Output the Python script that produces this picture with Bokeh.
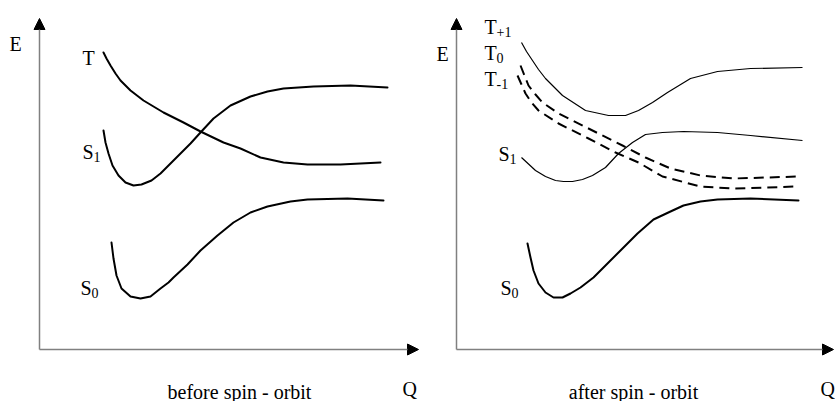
from bokeh.plotting import figure
from bokeh.models import Range1d, Arrow, NormalHead, ColumnDataSource
from bokeh.layouts import row
from bokeh.core.properties import value
from bokeh.embed import file_html
from bokeh.resources import INLINE

FONT = "Liberation Serif"

# ---------------- data (Q, E in arbitrary units; origin at the axes corner) ----------------
# before spin-orbit
left_T_q = [64, 67, 71, 76, 81, 91, 104, 124, 144, 161, 184, 201, 221, 244, 268, 301, 341]
left_T_e = [297, 291, 284, 276, 269, 259, 249, 237, 227, 218, 207, 201, 192, 187, 185, 185, 187]
left_S1_q = [64, 66, 69, 73, 79, 86, 94, 102, 112, 121, 129, 134, 151, 161, 174, 191, 211, 228, 244, 274, 311, 348]
left_S1_e = [219, 207, 196, 184, 174, 167, 164, 165, 169, 176, 184, 189, 206, 217, 231, 244, 253, 258, 261, 263, 264, 262]
left_S0_q = [72, 74, 77, 82, 91, 101, 111, 121, 129, 134, 148, 161, 178, 194, 211, 228, 251, 268, 308, 344]
left_S0_e = [107, 91, 74, 61, 53, 51, 53, 61, 67, 72, 85, 99, 114, 127, 137, 143, 148, 150, 151, 149]

# after spin-orbit
right_Tp1_q = [65, 70, 76, 82, 89, 106, 129, 152, 169, 182, 196, 211, 234, 261, 294, 346]
right_Tp1_e = [307, 298, 289, 280, 271, 254, 239, 234, 234, 239, 247, 257, 271, 278, 281, 282]
right_T0_q = [64, 68, 72, 79, 86, 102, 132, 166, 189, 214, 244, 277, 311, 341]
right_T0_e = [284, 274, 264, 255, 247, 236, 221, 204, 192, 181, 174, 171, 172, 173]
right_Tm1_q = [61, 65, 69, 75, 82, 102, 132, 159, 182, 206, 244, 277, 311, 339]
right_Tm1_e = [274, 265, 256, 247, 239, 226, 211, 197, 187, 173, 163, 161, 162, 163]
right_S1_q = [65, 79, 89, 99, 107, 116, 126, 136, 149, 162, 176, 189, 206, 227, 261, 294, 346]
right_S1_e = [192, 179, 173, 169, 168, 168, 170, 174, 182, 196, 207, 215, 217, 218, 217, 214, 209]
right_S0_q = [71, 74, 77, 82, 89, 97, 106, 114, 124, 137, 150, 164, 181, 197, 214, 227, 244, 261, 294, 342]
right_S0_e = [106, 92, 79, 66, 57, 52, 52, 56, 62, 72, 85, 99, 116, 130, 138, 144, 148, 150, 151, 149]

# axis extents
left_q_max, left_e_max = 379, 331
right_q_max, right_e_max = 377, 331

# labels: main letter, subscript, position
left_labels = ["T", "S", "S"]
left_subs = ["", "1", "0"]
left_label_q = [43, 43, 41]
left_label_e = [292, 198, 62]

right_labels = ["T", "T", "T", "S", "S"]
right_subs = ["+1", "0", "-1", "1", "0"]
right_label_q = [28, 28, 28, 42, 44]
right_label_e = [323, 297, 271, 196, 62]

left_caption = "before spin - orbit"
right_caption = "after spin - orbit"


def make_panel(width, xr, yr):
    p = figure(width=width, height=401, x_range=Range1d(*xr), y_range=Range1d(*yr),
               output_backend="svg", toolbar_location=None, min_border=0)
    p.axis.visible = False
    p.grid.visible = False
    p.outline_line_color = None
    p.background_fill_color = "white"
    p.border_fill_color = "white"
    return p


def add_axes(p, qmax, emax):
    for (xs, ys, xe, ye) in [(0, 0, qmax, 0), (0, 0, 0, emax)]:
        p.add_layout(Arrow(x_start=xs, y_start=ys, x_end=xe, y_end=ye,
                           line_color="#808080", line_width=1.5,
                           end=NormalHead(size=11, fill_color="black",
                                          line_color="black", line_width=1)))


def add_text(p, xs, ys, texts, size, align="left", x_off=0, y_off=0):
    src = ColumnDataSource(dict(x=xs, y=ys, t=texts))
    p.text(x="x", y="y", text="t", source=src, text_font=value(FONT),
           text_font_size=size, text_color="black", text_align=align,
           text_baseline="alphabetic", x_offset=x_off, y_offset=y_off)


def add_labels(p, mains, subs, qs, es):
    add_text(p, qs, es, mains, "20px")
    widths = [12 if m == "T" else 11 for m in mains]
    for m, s, q, e, w in zip(mains, subs, qs, es, widths):
        if s:
            add_text(p, [q], [e], [s], "14px", x_off=w, y_off=5)


# ---------------- left panel ----------------
left = make_panel(420, (-39, 381), (-52, 349))
add_axes(left, left_q_max, left_e_max)
for q, e in [(left_T_q, left_T_e), (left_S1_q, left_S1_e), (left_S0_q, left_S0_e)]:
    left.line(q, e, line_color="black", line_width=2, line_join="round", line_cap="round")
add_labels(left, left_labels, left_subs, left_label_q, left_label_e)
add_text(left, [-30], [306], ["E"], "20px")
add_text(left, [363], [-39], ["Q"], "20px")
add_text(left, [200], [-42], [left_caption], "20px", align="center")

# ---------------- right panel ----------------
right = make_panel(415, (-36, 379), (-52, 349))
add_axes(right, right_q_max, right_e_max)
right.line(right_Tp1_q, right_Tp1_e, line_color="black", line_width=1.2, line_join="round")
right.line(right_S1_q, right_S1_e, line_color="black", line_width=1.2, line_join="round")
right.line(right_S0_q, right_S0_e, line_color="black", line_width=2, line_join="round", line_cap="round")
for q, e in [(right_T0_q, right_T0_e), (right_Tm1_q, right_Tm1_e)]:
    right.line(q, e, line_color="black", line_width=2, line_dash="10 6", line_join="round")
add_labels(right, right_labels, right_subs, right_label_q, right_label_e)
add_text(right, [-20], [296], ["E"], "20px")
add_text(right, [364], [-39], ["Q"], "20px")
add_text(right, [177], [-42], [right_caption], "20px", align="center")

layout = row(left, right)
open("out.html", "w").write(file_html(layout, INLINE))
